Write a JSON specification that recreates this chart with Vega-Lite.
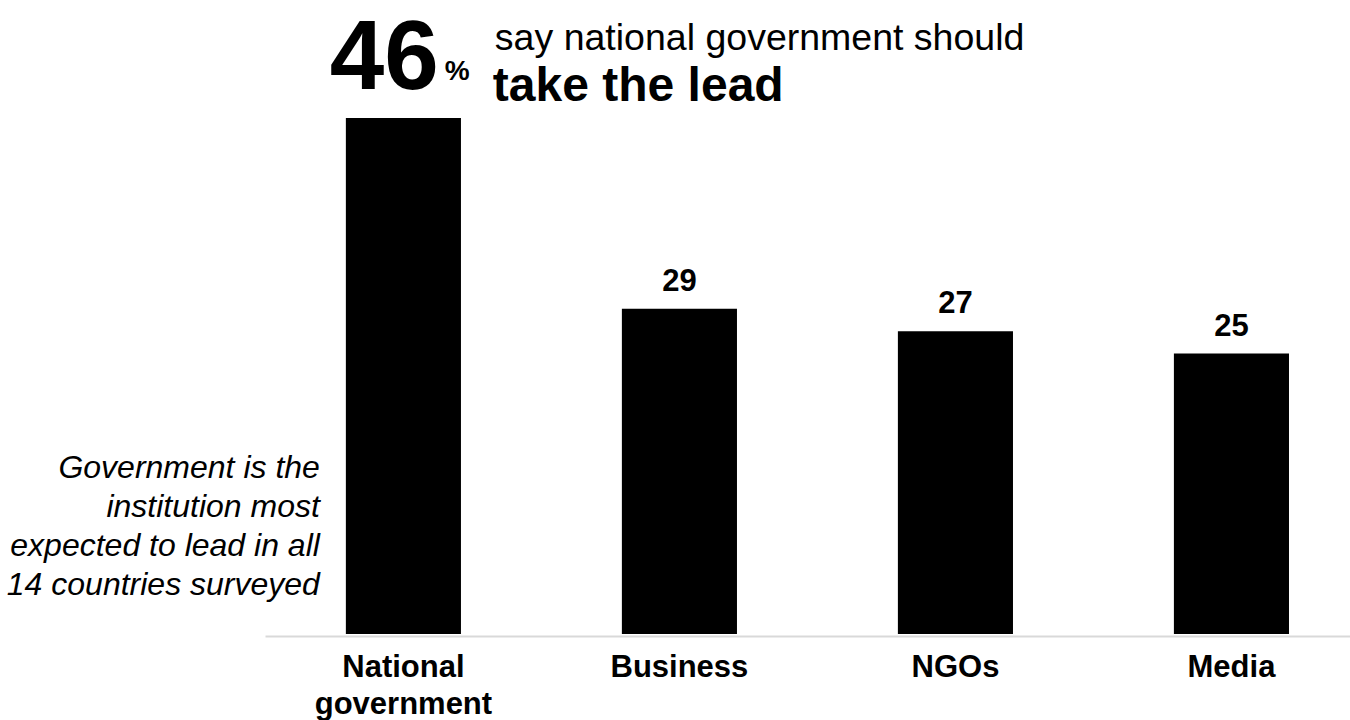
{
  "$schema": "https://vega.github.io/schema/vega-lite/v6.json",
  "width": 1085,
  "height": 516,
  "autosize": "none",
  "padding": {"left": 265, "top": 118, "right": 0, "bottom": 86},
  "background": "white",
  "config": {"view": {"stroke": null}, "font": "Liberation Sans"},
  "data": {"values": [
    {"category": "National government", "value": 46},
    {"category": "Business", "value": 29},
    {"category": "NGOs", "value": 27},
    {"category": "Media", "value": 25}
  ]},
  "layer": [
    {
      "mark": {"type": "bar", "color": "#000000"},
      "encoding": {
        "x": {
          "field": "category", "type": "nominal", "title": null,
          "scale": {"domain": ["National government", "Business", "NGOs", "Media"], "paddingInner": 0.583, "paddingOuter": 0.257, "align": 0.57},
          "axis": {
            "title": null, "labelAngle": 0, "labelFont": "Liberation Sans", "labelFontSize": 31,
            "labelFontWeight": "bold", "labelColor": "#000000", "labelPadding": 16, "offset": 2,
            "ticks": false, "domainColor": "#d9d9d9", "domainWidth": 2, "labelLineHeight": 37,
            "labelBaseline": "top", "labelLimit": 500, "labelOverlap": false, "grid": false,
            "labelExpr": "datum.label == 'National government' ? ['National', 'government'] : datum.label"
          }
        },
        "y": {"field": "value", "type": "quantitative", "scale": {"domain": [0, 46], "nice": false, "zero": true}, "axis": null}
      }
    },
    {
      "transform": [{"filter": "datum.category != 'National government'"}],
      "mark": {"type": "text", "fontSize": 31, "fontWeight": "bold", "color": "#000000", "baseline": "alphabetic", "align": "center", "dy": -18},
      "encoding": {
        "x": {"field": "category", "type": "nominal", "title": null},
        "y": {"field": "value", "type": "quantitative"},
        "text": {"field": "value", "type": "quantitative"}
      }
    },
    {
      "transform": [{"filter": "datum.category == 'National government'"}],
      "mark": {"type": "text", "fontSize": 98, "fontWeight": "bold", "color": "#000000", "baseline": "alphabetic", "align": "left", "dx": -16, "dy": -29},
      "encoding": {
        "x": {"field": "category", "type": "nominal", "title": null, "bandPosition": 0},
        "y": {"field": "value", "type": "quantitative"},
        "text": {"field": "value", "type": "quantitative"}
      }
    },
    {
      "transform": [{"filter": "datum.category == 'National government'"}],
      "mark": {"type": "text", "text": "%", "fontSize": 28, "fontWeight": "bold", "color": "#000000", "baseline": "alphabetic", "align": "left", "dx": 99, "dy": -38},
      "encoding": {
        "x": {"field": "category", "type": "nominal", "title": null, "bandPosition": 0},
        "y": {"field": "value", "type": "quantitative"}
      }
    },
    {
      "transform": [{"filter": "datum.category == 'National government'"}],
      "mark": {"type": "text", "text": "say national government should", "fontSize": 37.5, "fontWeight": "normal", "color": "#000000", "baseline": "alphabetic", "align": "left", "dx": 149, "dy": -68},
      "encoding": {
        "x": {"field": "category", "type": "nominal", "title": null, "bandPosition": 0},
        "y": {"field": "value", "type": "quantitative"}
      }
    },
    {
      "transform": [{"filter": "datum.category == 'National government'"}],
      "mark": {"type": "text", "text": "take the lead", "fontSize": 48, "fontWeight": "bold", "color": "#000000", "baseline": "alphabetic", "align": "left", "dx": 147, "dy": -17},
      "encoding": {
        "x": {"field": "category", "type": "nominal", "title": null, "bandPosition": 0},
        "y": {"field": "value", "type": "quantitative"}
      }
    },
    {
      "transform": [{"filter": "datum.category == 'National government'"}],
      "mark": {"type": "text", "text": ["Government is the", "institution most", "expected to lead in all", "14 countries surveyed"], "fontSize": 32, "fontStyle": "italic", "color": "#000000", "baseline": "alphabetic", "align": "right", "lineHeight": 39, "dx": -26, "dy": 1},
      "encoding": {
        "x": {"field": "category", "type": "nominal", "title": null, "bandPosition": 0},
        "y": {"datum": 14, "type": "quantitative"}
      }
    }
  ]
}
